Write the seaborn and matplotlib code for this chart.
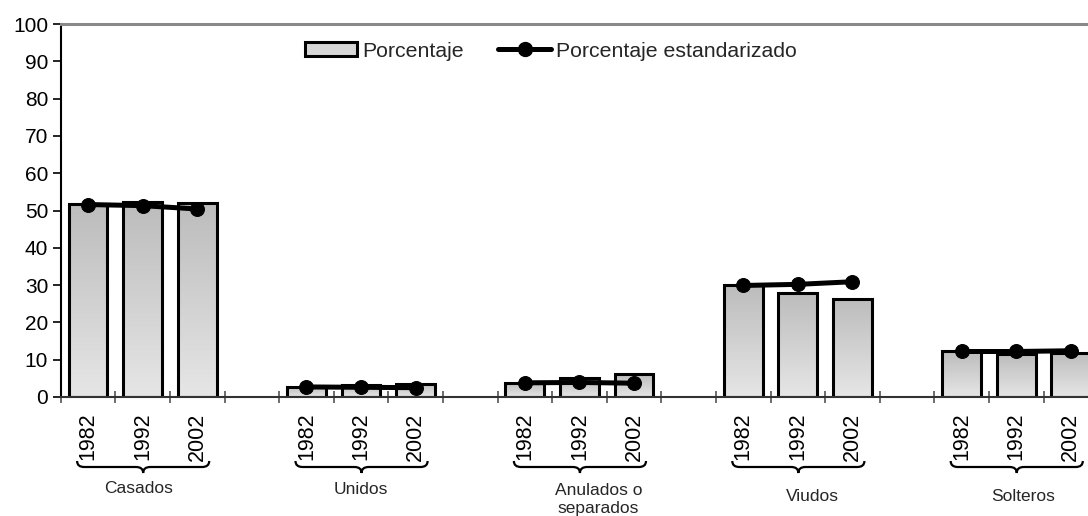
import numpy as np
import pandas as pd
import matplotlib
matplotlib.use("Agg")
import matplotlib.pyplot as plt
import seaborn as sns
from matplotlib.path import Path
from matplotlib.patches import PathPatch, Rectangle, Patch
from matplotlib.lines import Line2D
from matplotlib.colors import LinearSegmentedColormap
import matplotlib.transforms as mtransforms

# ---------------- data ----------------
groups = ["Casados", "Unidos", "Anulados o\nseparados", "Viudos", "Solteros"]
years = ["1982", "1992", "2002"]
porcentaje = [
    [51.7, 52.4, 51.9],
    [2.7, 3.2, 3.6],
    [3.8, 5.0, 6.1],
    [29.9, 28.0, 26.4],
    [12.2, 11.5, 11.9],
]
porcentaje_std = [
    [51.6, 51.3, 50.4],
    [2.7, 2.6, 2.5],
    [3.8, 3.9, 3.7],
    [29.9, 30.2, 30.9],
    [12.2, 12.2, 12.4],
]
y_ticks = [0, 10, 20, 30, 40, 50, 60, 70, 80, 90, 100]

# ---------------- layout (style only) ----------------
label_dx = [-0.07, 0.0, 0.35, 0.26, 0.12]          # x nudges of group labels (slot units)
label_y = [0.054, 0.052, 0.032, 0.037, 0.037]      # figure-fraction y of group labels

# build slot order with blank slots between groups
order = []
rows = []
for gi, g in enumerate(groups):
    for yi, yr in enumerate(years):
        key = f"{g}|{yr}"
        order.append(key)
        rows.append({"slot": key, "grupo": g, "anio": yr,
                     "pct": porcentaje[gi][yi], "std": porcentaje_std[gi][yi]})
    if gi < len(groups) - 1:
        order.append(f"gap{gi}")
df = pd.DataFrame(rows)
df["pos"] = [order.index(s) for s in df["slot"]]

sns.set_theme(style="white")
plt.rcParams["font.family"] = ["Liberation Sans", "DejaVu Sans"]

fig = plt.figure(figsize=(10.88, 5.16), dpi=100)
ax = fig.add_axes([60.7 / 1088, 1 - 397 / 516, 19 * 54.6 / 1088, (397 - 24) / 516])

sns.barplot(data=df, x="slot", y="pct", order=order, color="#d0d0d0",
            width=0.71, edgecolor="black", linewidth=2, ax=ax, zorder=2)

# vertical gradient fill for each bar
cmap = LinearSegmentedColormap.from_list("g", ["#e6e6e6", "#bcbcbc"])
grad = np.linspace(0, 1, 256).reshape(-1, 1)
bars = [p for p in ax.patches if isinstance(p, Rectangle)]
for p in bars:
    x0, w, h = p.get_x(), p.get_width(), p.get_height()
    if not np.isfinite(h) or h == 0:
        continue
    im = ax.imshow(grad, extent=[x0, x0 + w, 0, h], origin="lower",
                   aspect="auto", cmap=cmap, zorder=2.1, interpolation="bicubic")
    im.set_clip_path(p)
    ax.add_patch(Rectangle((x0, 0), w, h, fill=False, ec="black", lw=2.2, zorder=2.2))

# standardized line per group
sns.lineplot(data=df, x="pos", y="std", hue="grupo", units="grupo", estimator=None,
             palette=["black"] * len(groups), legend=False, lw=3.6, marker="o",
             markersize=10, markeredgecolor="black", ax=ax, zorder=3, sort=False)

ax.set_xlim(-0.5, len(order) - 0.5)
ax.set_ylim(0, 100)
ax.set_yticks(y_ticks)
ax.set_yticklabels([str(t) for t in y_ticks], fontsize=15, color="black")
ax.tick_params(axis="y", direction="out", length=6, width=1.2, color="black",
               pad=3, left=True)

ax.set_xticks(range(len(order)))
ax.set_xticklabels([s.split("|")[1] if "|" in s else "" for s in order],
                   rotation=90, fontsize=15.5, color="black")
ax.tick_params(axis="x", which="major", length=0, pad=11)
ax.set_xticks(np.arange(-0.5, len(order) - 0.4, 1.0), minor=True)
ax.tick_params(axis="x", which="minor", direction="inout", length=9, width=1.2,
               color="#555555", bottom=True)
ax.set_xlabel("")
ax.set_ylabel("")

for side in ["left", "bottom"]:
    ax.spines[side].set_visible(True)
ax.spines["left"].set_color("black")
ax.spines["left"].set_linewidth(1.5)
ax.spines["bottom"].set_color("#333333")
ax.spines["bottom"].set_linewidth(1.5)
ax.spines["top"].set_color("#888888")
ax.spines["top"].set_linewidth(2.2)
ax.spines["right"].set_visible(False)
ax.grid(False)

# braces and group labels
trans = mtransforms.blended_transform_factory(ax.transData, fig.transFigure)
ytop, yline, ytip = 1 - 461 / 516, 1 - 467 / 516, 1 - 473 / 516
for gi, g in enumerate(groups):
    i0 = order.index(f"{g}|{years[0]}")
    i2 = order.index(f"{g}|{years[-1]}")
    xa, xb = i0 - 0.2, i2 + 0.22
    xm = (xa + xb) / 2
    d = 0.13
    verts = [(xa, ytop), (xa, yline), (xa + d, yline),
             (xm - d, yline), (xm, yline), (xm, ytip),
             (xm, yline), (xm + d, yline),
             (xb - d, yline), (xb, yline), (xb, ytop)]
    codes = [Path.MOVETO, Path.CURVE3, Path.CURVE3,
             Path.LINETO, Path.CURVE3, Path.CURVE3,
             Path.CURVE3, Path.CURVE3,
             Path.LINETO, Path.CURVE3, Path.CURVE3]
    ax.add_patch(PathPatch(Path(verts, codes), transform=trans, fill=False,
                           lw=1.6, ec="black", clip_on=False))
    ax.text((i0 + i2) / 2 + label_dx[gi], label_y[gi], g, transform=trans,
            ha="center", va="center", fontsize=12.5, linespacing=1.25, clip_on=False)

# legend
handles = [Patch(facecolor="#d6d6d6", edgecolor="black", linewidth=2.2),
           Line2D([], [], color="black", lw=3.6, marker="o", markersize=10)]
fig.legend(handles, ["Porcentaje", "Porcentaje estandarizado"], loc="center",
           bbox_to_anchor=(0.506, 0.901), ncol=2, frameon=False, fontsize=15.3,
           handlelength=2.45, handleheight=0.6, handletextpad=0.24, columnspacing=1.65)

fig.savefig("out.png", dpi=100)
